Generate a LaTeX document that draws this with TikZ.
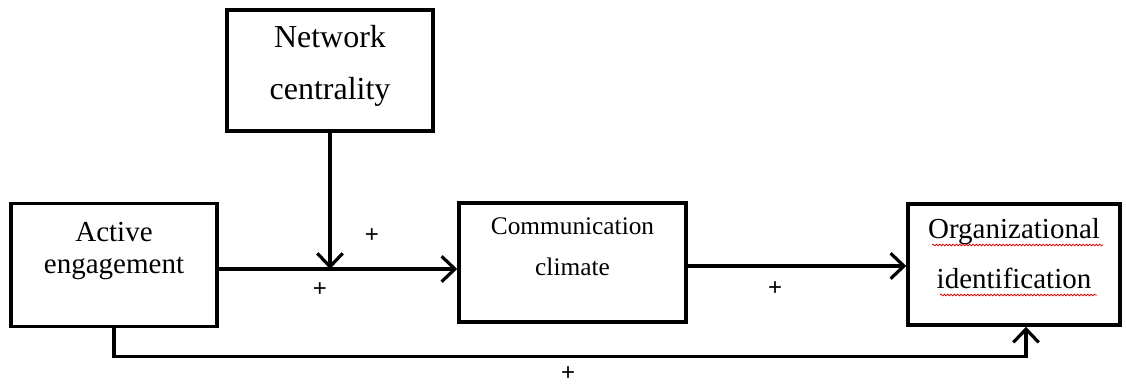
\documentclass[tikz,border=0pt]{standalone}
\usepackage{fontspec}
\setmainfont{Liberation Serif}
\newfontfamily\signfont{Liberation Sans}
\usetikzlibrary{arrows.meta,positioning,decorations.pathmorphing}

\tikzset{
  varbox/.style={rectangle, draw=black, line width=2.6pt, inner sep=0pt},
  vartext/.style={align=center, inner sep=0pt},
  link/.style={line width=2.4pt, -{Straight Barb[length=10pt,width=19pt]}},
  signnode/.style={font=\signfont\fontsize{18}{18}\selectfont, inner sep=0pt, text depth=0pt},
  spellmark/.style={red!85!black, line width=0.6pt, decorate,
    decoration={snake, amplitude=0.6pt, segment length=2.5pt}},
}

\begin{document}
\begin{tikzpicture}[x=0.75pt, y=-0.75pt]
\useasboundingbox (0,0) rectangle (1126,385);

% variables
\node[varbox, minimum width=154.5pt, minimum height=92.25pt] (ae) at (114,265) {};
\node[varbox, minimum width=154.5pt, minimum height=90.75pt] (nc) at (330,70.5) {};
\node[varbox, minimum width=170.25pt, minimum height=89.25pt] (cc) at (572.5,262.5) {};
\node[varbox, minimum width=159pt, minimum height=90.75pt] (oi) at (1014,264.5) {};

% labels inside the boxes
\node[vartext, font=\fontsize{21.75}{24}\selectfont, below=15.5pt of ae.north] (ae-text) {Active\\engagement};
\node[vartext, font=\fontsize{24}{39}\selectfont, below=12.5pt of nc.north] (nc-text) {Network\\centrality};
\node[vartext, font=\fontsize{19}{30.75}\selectfont, below=12pt of cc.north] (cc-text) {Communication\\climate};
\node[vartext, font=\fontsize{21.75}{37.5}\selectfont, below=12pt of oi.north] (oi-text) {Organizational\\identification};

% spelling marks
\draw[spellmark] (932,245) -- (1103,245);
\draw[spellmark] (940,295) -- (1097,295);

% paths
\coordinate (mod) at (330,269);
\draw[link] (ae.east |- mod) -- (mod -| cc.west);
\draw[link] (nc.south) -- (mod);
\coordinate (out) at (700,266);
\draw[link] (cc.east |- out) -- (out -| oi.west);
\draw[link] (ae.south) -- ++(0,28) -| ([xshift=9pt]oi.south);

% signs
\node[signnode] (s-mod) at (372,236) {+};
\node[signnode] (s-ae) at (320,290) {+};
\node[signnode] (s-cc) at (775,289) {+};
\node[signnode] (s-dir) at (568,374) {+};

\end{tikzpicture}
\end{document}
